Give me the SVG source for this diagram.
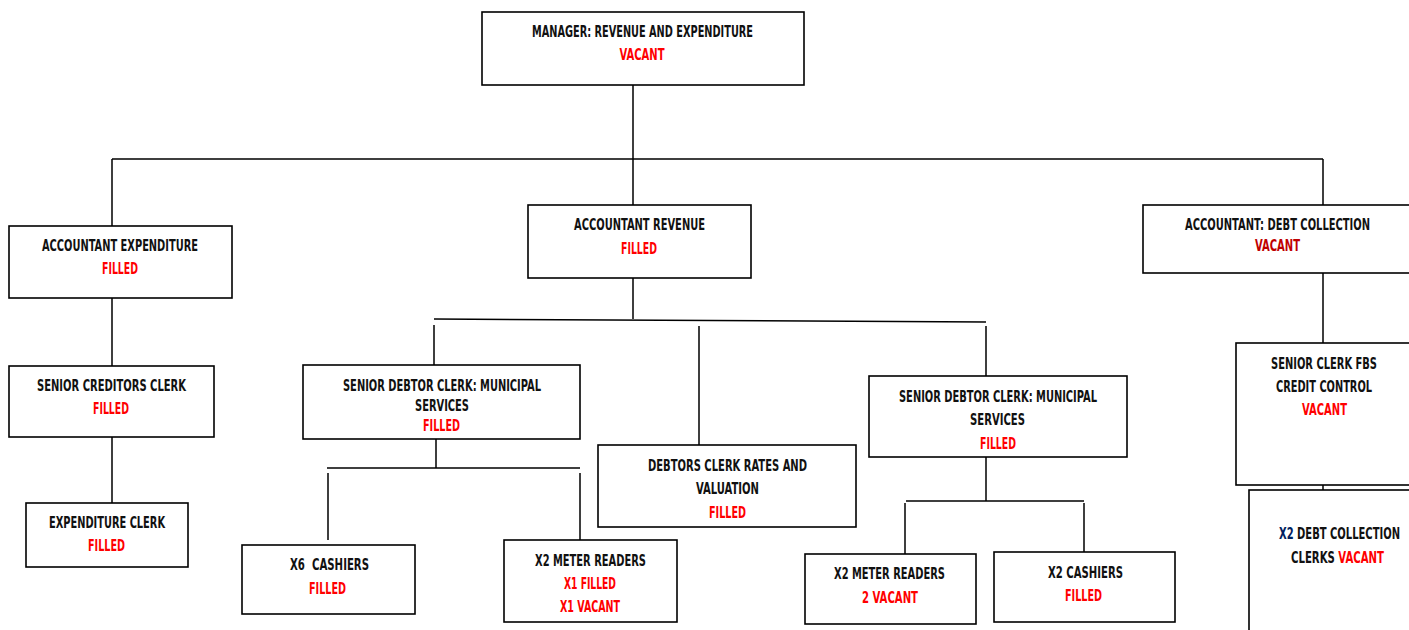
<svg xmlns="http://www.w3.org/2000/svg" width="1409" height="630" viewBox="0 0 1409 630">
<style>
.box{fill:#fff;stroke:#000;stroke-width:1.6}
.ln{stroke:#000;stroke-width:1.5;fill:none}
text{font-family:"DejaVu Sans Condensed","DejaVu Sans",sans-serif;font-weight:bold;font-size:16px;text-anchor:middle}
.t{fill:#111}
.r{fill:#ff0000}
.dr{fill:#c00000}
.b{fill:#002060}
.s{text-anchor:start}
</style>
<rect width="1409" height="630" fill="#fff"/>
<g id="connectors">
<path class="ln" d="M633 85V159M112 159H1323M112 159V226M633 159V205M1323 159V205"/>
<path class="ln" d="M112 298V366M112 437V503"/>
<path class="ln" d="M633 278V319M434 319L986 322M434 325V365M699 326V445M986 326V376"/>
<path class="ln" d="M436 439V468M327 468H580M328 473V540M580 473V540"/>
<path class="ln" d="M986 457V501M906 501H1084M905 503V554M1084 503V552"/>
<path class="ln" d="M1323 273V343M1323 485V490"/>
</g>
<g id="manager">
<rect class="box" x="482" y="12" width="322" height="73"/>
<text class="t" x="642.5" y="37" textLength="221" lengthAdjust="spacingAndGlyphs">MANAGER: REVENUE AND EXPENDITURE</text>
<text class="r" x="642" y="60" textLength="45" lengthAdjust="spacingAndGlyphs">VACANT</text>
</g>
<g id="acc-expenditure">
<rect class="box" x="9" y="226" width="223" height="72"/>
<text class="t" x="120" y="251" textLength="156" lengthAdjust="spacingAndGlyphs">ACCOUNTANT EXPENDITURE</text>
<text class="r" x="120" y="274" textLength="36" lengthAdjust="spacingAndGlyphs">FILLED</text>
</g>
<g id="senior-creditors">
<rect class="box" x="9" y="366" width="205" height="71"/>
<text class="t" x="111.5" y="391" textLength="149" lengthAdjust="spacingAndGlyphs">SENIOR CREDITORS CLERK</text>
<text class="r" x="111" y="414" textLength="36" lengthAdjust="spacingAndGlyphs">FILLED</text>
</g>
<g id="expenditure-clerk">
<rect class="box" x="26" y="503" width="162" height="64"/>
<text class="t" x="107" y="528" textLength="116" lengthAdjust="spacingAndGlyphs">EXPENDITURE CLERK</text>
<text class="r" x="106.5" y="551" textLength="37" lengthAdjust="spacingAndGlyphs">FILLED</text>
</g>
<g id="acc-revenue">
<rect class="box" x="528" y="205" width="223" height="73"/>
<text class="t" x="639.5" y="230" textLength="131" lengthAdjust="spacingAndGlyphs">ACCOUNTANT REVENUE</text>
<text class="r" x="639" y="254" textLength="36" lengthAdjust="spacingAndGlyphs">FILLED</text>
</g>
<g id="acc-debt">
<rect class="box" x="1143" y="205" width="280" height="68"/>
<text class="t" x="1277.5" y="230" textLength="185" lengthAdjust="spacingAndGlyphs">ACCOUNTANT: DEBT COLLECTION</text>
<text class="dr" x="1277.5" y="251" textLength="45" lengthAdjust="spacingAndGlyphs">VACANT</text>
</g>
<g id="senior-debtor-left">
<rect class="box" x="303" y="365" width="277" height="74"/>
<text class="t" x="442" y="391" textLength="198" lengthAdjust="spacingAndGlyphs">SENIOR DEBTOR CLERK: MUNICIPAL</text>
<text class="t" x="442" y="411" textLength="54" lengthAdjust="spacingAndGlyphs">SERVICES</text>
<text class="r" x="441.5" y="431" textLength="37" lengthAdjust="spacingAndGlyphs">FILLED</text>
</g>
<g id="debtors-rates">
<rect class="box" x="598" y="445" width="258" height="82"/>
<text class="t" x="727.5" y="471" textLength="159" lengthAdjust="spacingAndGlyphs">DEBTORS CLERK RATES AND</text>
<text class="t" x="727.5" y="494" textLength="63" lengthAdjust="spacingAndGlyphs">VALUATION</text>
<text class="r" x="727.5" y="518" textLength="37" lengthAdjust="spacingAndGlyphs">FILLED</text>
</g>
<g id="senior-debtor-right">
<rect class="box" x="869" y="376" width="258" height="81"/>
<text class="t" x="998" y="402" textLength="198" lengthAdjust="spacingAndGlyphs">SENIOR DEBTOR CLERK: MUNICIPAL</text>
<text class="t" x="997.5" y="425" textLength="55" lengthAdjust="spacingAndGlyphs">SERVICES</text>
<text class="r" x="998" y="449" textLength="36" lengthAdjust="spacingAndGlyphs">FILLED</text>
</g>
<g id="cashiers-x6">
<rect class="box" x="242" y="545" width="173" height="69"/>
<text class="t" x="329.5" y="570" textLength="79" lengthAdjust="spacingAndGlyphs" xml:space="preserve">X6  CASHIERS</text>
<text class="r" x="327.5" y="594" textLength="37" lengthAdjust="spacingAndGlyphs">FILLED</text>
</g>
<g id="meter-readers-left">
<rect class="box" x="504" y="540" width="173" height="82"/>
<text class="t" x="590.5" y="565.5" textLength="111" lengthAdjust="spacingAndGlyphs">X2 METER READERS</text>
<text class="r" x="590" y="589" textLength="52" lengthAdjust="spacingAndGlyphs">X1 FILLED</text>
<text class="r" x="590" y="612" textLength="60" lengthAdjust="spacingAndGlyphs">X1 VACANT</text>
</g>
<g id="meter-readers-right">
<rect class="box" x="805" y="554" width="171" height="70"/>
<text class="t" x="889.5" y="579" textLength="111" lengthAdjust="spacingAndGlyphs">X2 METER READERS</text>
<text class="r" x="890" y="603" textLength="56" lengthAdjust="spacingAndGlyphs">2 VACANT</text>
</g>
<g id="cashiers-x2">
<rect class="box" x="994" y="552" width="181" height="70"/>
<text class="t" x="1085.5" y="578" textLength="75" lengthAdjust="spacingAndGlyphs">X2 CASHIERS</text>
<text class="r" x="1083.5" y="601" textLength="37" lengthAdjust="spacingAndGlyphs">FILLED</text>
</g>
<g id="senior-clerk-fbs">
<rect class="box" x="1236" y="343" width="190" height="142"/>
<text class="t" x="1324" y="369" textLength="106" lengthAdjust="spacingAndGlyphs">SENIOR CLERK FBS</text>
<text class="t" x="1324" y="392" textLength="96" lengthAdjust="spacingAndGlyphs">CREDIT CONTROL</text>
<text class="r" x="1324.5" y="415" textLength="45" lengthAdjust="spacingAndGlyphs">VACANT</text>
</g>
<g id="debt-collection-clerks">
<rect class="box" x="1249" y="490" width="180" height="160"/>
<text class="t s" x="1279" y="539" textLength="121" lengthAdjust="spacingAndGlyphs"><tspan class="b">X2</tspan> DEBT COLLECTION</text>
<text class="t s" x="1291" y="563" textLength="93" lengthAdjust="spacingAndGlyphs">CLERKS <tspan class="r">VACANT</tspan></text>
</g>
</svg>
